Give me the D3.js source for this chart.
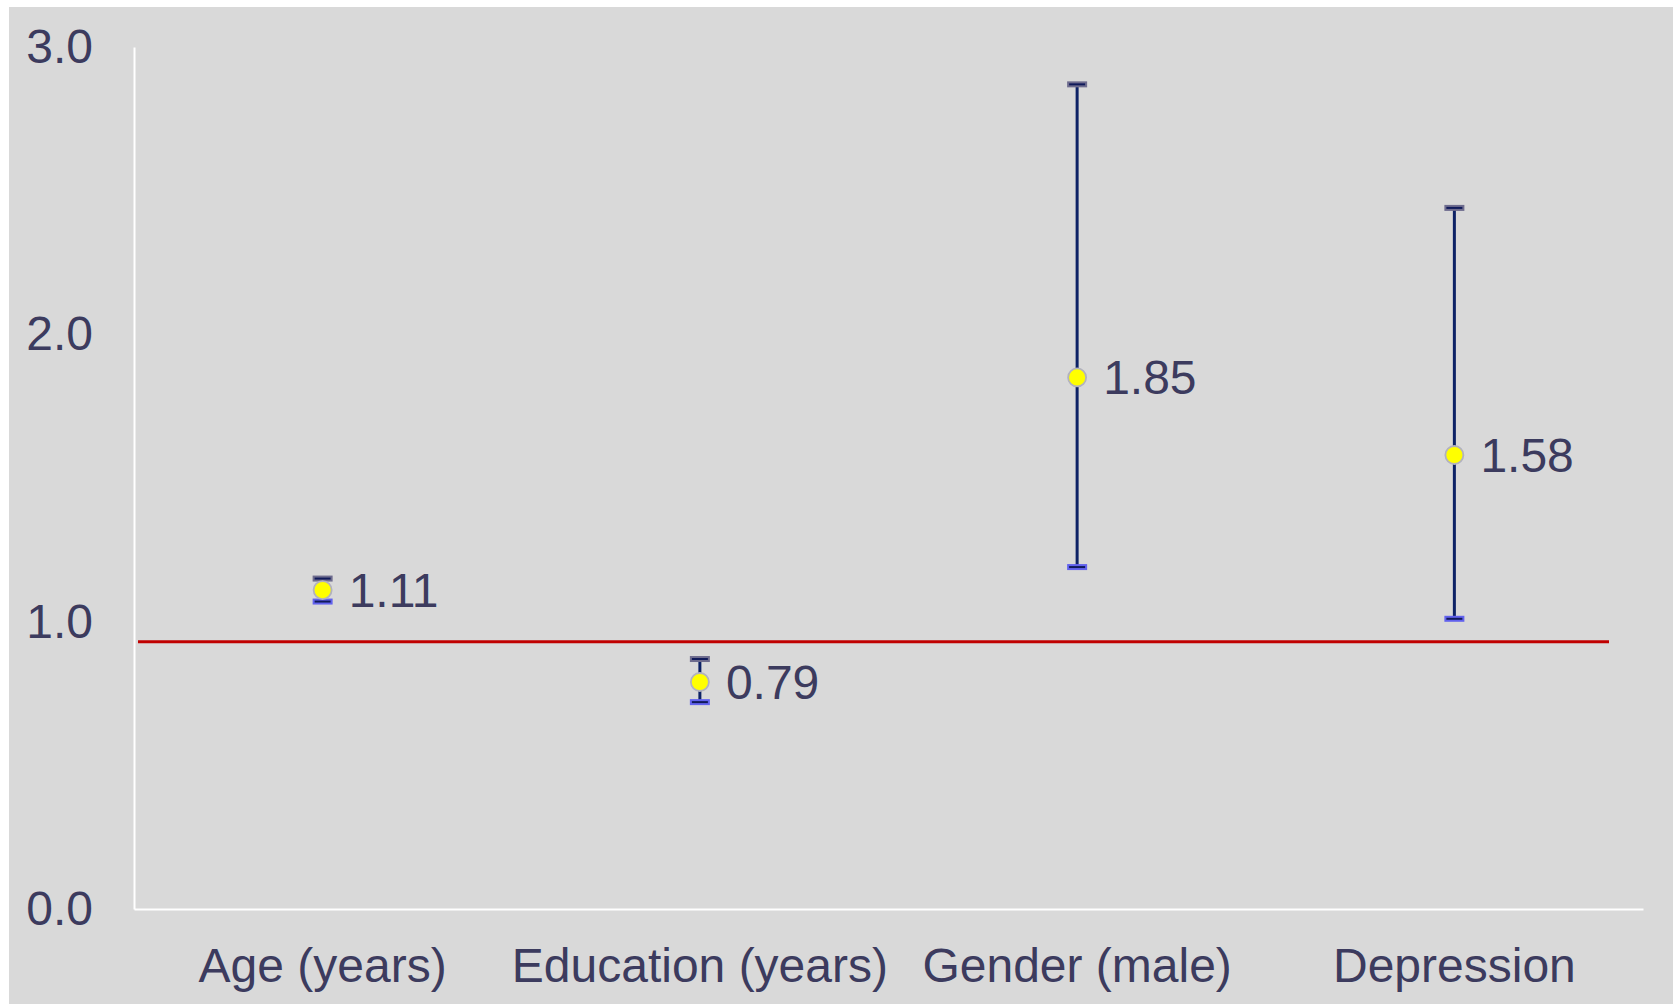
<!DOCTYPE html>
<html>
<head>
<meta charset="utf-8">
<script src="https://cdn.jsdelivr.net/npm/d3@7/dist/d3.min.js"></script>
<style>
  html, body { margin: 0; padding: 0; background: #ffffff; }
  svg { display: block; }
  text { font-family: "Liberation Sans", Arial, Helvetica, sans-serif; }
</style>
</head>
<body>
<svg id="chart" width="1676" height="1005"></svg>
<script>
// Odds ratios with 95% confidence intervals
const categories = ["Age (years)", "Education (years)", "Gender (male)", "Depression"];
const oddsRatio  = [1.11, 0.79, 1.85, 1.58];
const ciLower    = [1.07, 0.72, 1.19, 1.01];
const ciUpper    = [1.15, 0.87, 2.87, 2.44];
const yTicks     = [0, 1, 2, 3];
const referenceValue = 0.93;

const plot = { left: 134, right: 1643, top: 47, bottom: 909 };
const textColor = "#3c3b5e";
const fontSize = "48px";

const svg = d3.select("#chart");

// panel background
svg.append("rect")
  .attr("x", 9).attr("y", 7)
  .attr("width", 1664).attr("height", 997)
  .attr("fill", "#d9d9d9");

const x = d3.scaleBand()
  .domain(categories)
  .range([plot.left, plot.right])
  .padding(0);

const y = d3.scaleLinear()
  .domain([0, 3])
  .range([plot.bottom, plot.top]);

// y axis
const yAxis = svg.append("g")
  .attr("transform", `translate(${plot.left},0)`)
  .call(d3.axisLeft(y).tickValues(yTicks).tickFormat(d3.format(".1f")).tickSize(0).tickPadding(41));
yAxis.select(".domain").attr("stroke", "#ffffff").attr("stroke-width", 2);
yAxis.selectAll("text")
  .attr("fill", textColor)
  .style("font-size", fontSize)
  .attr("dy", "0.32em");

// x axis
const xAxis = svg.append("g")
  .attr("transform", `translate(0,${plot.bottom})`)
  .call(d3.axisBottom(x).tickSize(0).tickPadding(0));
xAxis.select(".domain").attr("stroke", "#ffffff").attr("stroke-width", 2);
xAxis.selectAll("text")
  .attr("fill", textColor)
  .style("font-size", fontSize)
  .attr("dy", null)
  .attr("y", 73);

// reference line
svg.append("line")
  .attr("x1", plot.left + 4).attr("x2", 1609)
  .attr("y1", y(referenceValue)).attr("y2", y(referenceValue))
  .attr("stroke", "#c00000").attr("stroke-width", 3);

const rows = categories.map((c, i) => ({ c, or: oddsRatio[i], lo: ciLower[i], hi: ciUpper[i] }));
const cx = d => x(d.c) + x.bandwidth() / 2;
const capW = 20;

const g = svg.append("g").selectAll("g").data(rows).join("g");

// CI whiskers
g.append("line")
  .attr("x1", cx).attr("x2", cx)
  .attr("y1", d => y(d.hi)).attr("y2", d => y(d.lo))
  .attr("stroke", "#0d2266").attr("stroke-width", 3);

// upper caps
g.append("rect")
  .attr("x", d => cx(d) - capW / 2).attr("y", d => y(d.hi) - 3)
  .attr("width", capW).attr("height", 6)
  .attr("fill", "#6e6c8e");
g.append("line")
  .attr("x1", d => cx(d) - capW / 2 + 2).attr("x2", d => cx(d) + capW / 2 - 2)
  .attr("y1", d => y(d.hi)).attr("y2", d => y(d.hi))
  .attr("stroke", "#101a5a").attr("stroke-width", 2);

// lower caps
g.append("rect")
  .attr("x", d => cx(d) - capW / 2).attr("y", d => y(d.lo) - 3)
  .attr("width", capW).attr("height", 6)
  .attr("fill", "#6262ee");
g.append("line")
  .attr("x1", d => cx(d) - capW / 2 + 2).attr("x2", d => cx(d) + capW / 2 - 2)
  .attr("y1", d => y(d.lo)).attr("y2", d => y(d.lo))
  .attr("stroke", "#101a5a").attr("stroke-width", 2);

// point estimates
g.append("circle")
  .attr("cx", cx).attr("cy", d => y(d.or))
  .attr("r", 9)
  .attr("fill", "#ffff00")
  .attr("stroke", "#b2b2bf").attr("stroke-width", 1.8);

// value labels
g.append("text")
  .attr("x", d => cx(d) + 26)
  .attr("y", d => y(d.or))
  .attr("dy", "0.35em")
  .attr("fill", textColor)
  .style("font-size", fontSize)
  .text(d => d.or.toFixed(2));
</script>
</body>
</html>
